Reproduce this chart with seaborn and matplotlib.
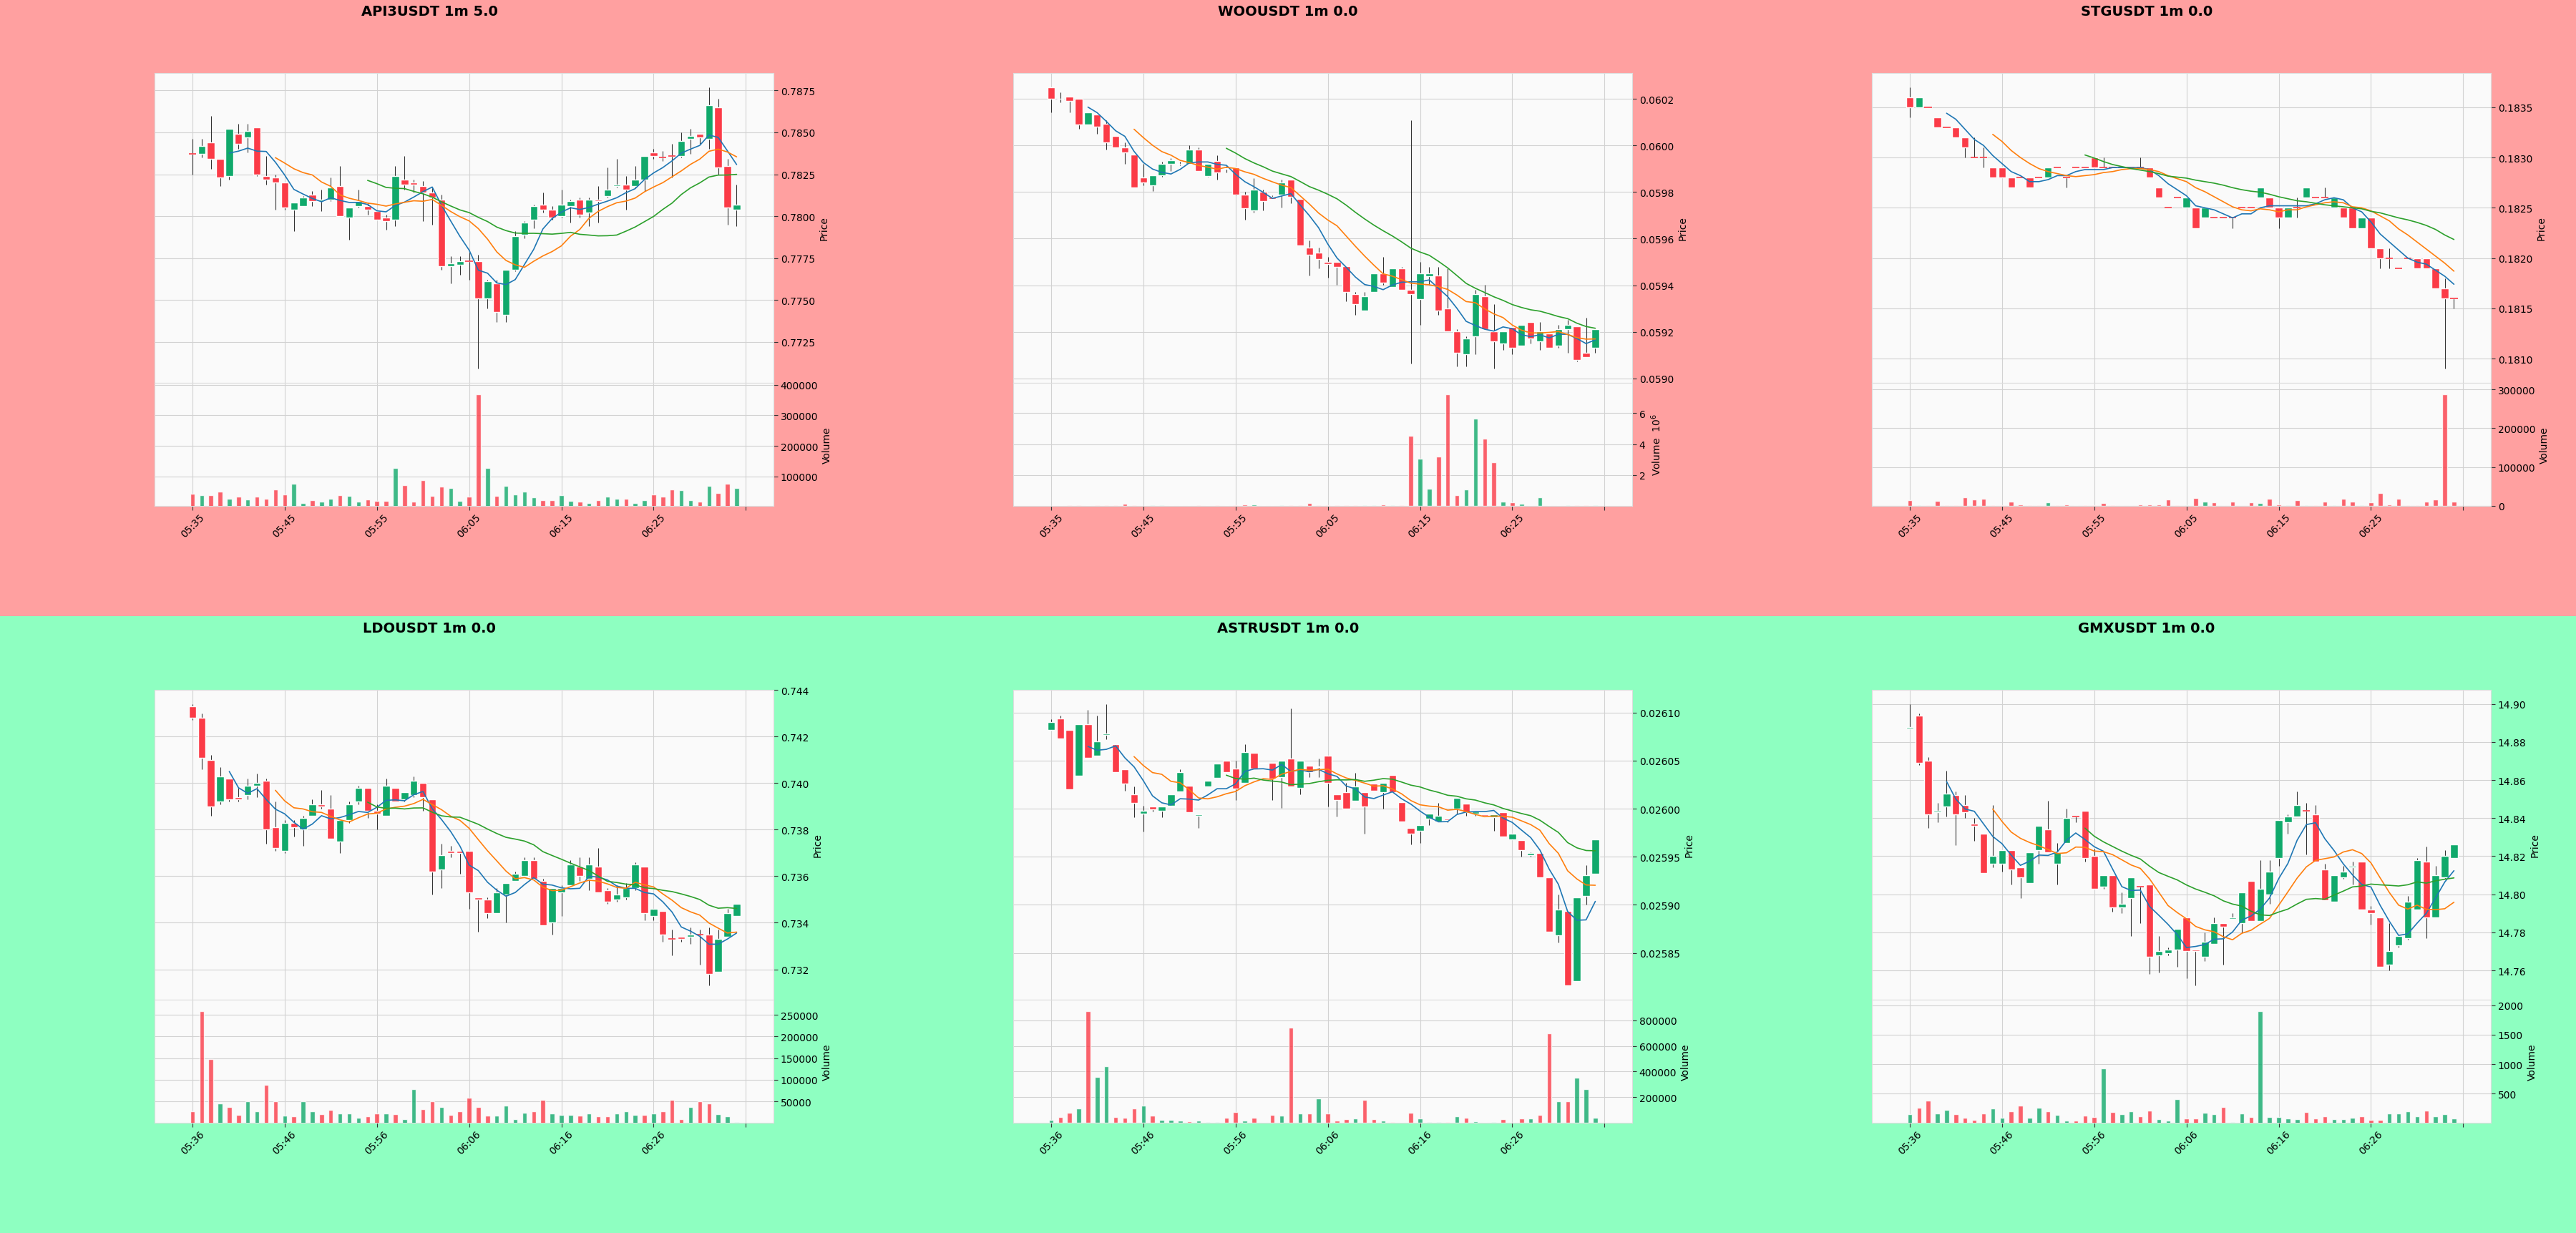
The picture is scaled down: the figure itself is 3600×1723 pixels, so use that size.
import numpy as np
import pandas as pd
import matplotlib
matplotlib.use("Agg")
import matplotlib.pyplot as plt
from matplotlib.patches import Rectangle
from matplotlib.ticker import MultipleLocator, FormatStrFormatter
import seaborn as sns

sns.set_theme(style="whitegrid")
plt.rcParams["font.family"] = ["DejaVu Sans"]
plt.rcParams["text.color"] = "black"
plt.rcParams["axes.labelcolor"] = "black"
plt.rcParams["xtick.color"] = "black"
plt.rcParams["ytick.color"] = "black"

UP = "#10a96b"
DOWN = "#fb3b47"
MA_COLORS = ["#1f77b4", "#ff7f0e", "#2ca02c"]

top_ticks = ["05:35", "05:45", "05:55", "06:05", "06:15", "06:25", ""]
bottom_ticks = ["05:36", "05:46", "05:56", "06:06", "06:16", "06:26", ""]

# ---- API3USDT ----
api3_open = [.7837, .7837, .7844, .7834, .7824, .7849, .7847, .7853, .7824, .7823,
             .7820, .7804, .7806, .7813, .7809, .7810, .7818, .7799, .7806, .7806,
             .7803, .7799, .7798, .7822, .7820, .7818, .7814, .7810, .7770, .7771,
             .7773, .7773, .7751, .7760, .7741, .7768, .7789, .7798, .7807, .7804,
             .7800, .7806, .7810, .7802, .7810, .7812, .7818, .7819, .7818, .7822,
             .7838, .7835, .7836, .7836, .7846, .7849, .7846, .7865, .7830, .7804]
api3_high = [.7846, .7846, .7860, .7834, .7852, .7855, .7855, .7853, .7836, .7825,
             .7820, .7808, .7812, .7815, .7816, .7823, .7830, .7805, .7816, .7808,
             .7803, .7801, .7830, .7836, .7822, .7821, .7817, .7813, .7776, .7776,
             .7779, .7777, .7762, .7762, .7768, .7791, .7797, .7807, .7814, .7806,
             .7816, .7810, .7811, .7811, .7818, .7829, .7834, .7824, .7830, .7836,
             .7840, .7839, .7843, .7850, .7852, .7849, .7877, .7870, .7834, .7819]
api3_low = [.7825, .7835, .7828, .7818, .7822, .7840, .7838, .7824, .7819, .7804,
            .7804, .7791, .7806, .7806, .7803, .7809, .7800, .7786, .7805, .7801,
            .7798, .7792, .7794, .7816, .7814, .7797, .7795, .7768, .7760, .7765,
            .7762, .7709, .7745, .7737, .7737, .7767, .7787, .7793, .7802, .7798,
            .7799, .7796, .7799, .7794, .7796, .7811, .7817, .7804, .7817, .7815,
            .7834, .7833, .7823, .7835, .7837, .7843, .7840, .7825, .7795, .7794]
api3_close = [.7837, .7842, .7834, .7823, .7852, .7843, .7851, .7825, .7822, .7820,
              .7805, .7808, .7811, .7809, .7810, .7817, .7800, .7805, .7809, .7804,
              .7798, .7797, .7824, .7819, .7819, .7814, .7811, .7770, .7772, .7773,
              .7773, .7751, .7761, .7743, .7768, .7788, .7796, .7806, .7804, .7799,
              .7807, .7809, .7801, .7810, .7809, .7816, .7819, .7816, .7822, .7836,
              .7836, .7835, .7836, .7845, .7848, .7847, .7866, .7829, .7805, .7807]
api3_volume = [44000, 38000, 38000, 50000, 27000, 33000, 25000, 33000, 27000, 58000,
               42000, 77000, 12000, 23000, 17000, 27000, 38000, 36000, 17000, 25000,
               19000, 19000, 128000, 72000, 17000, 88000, 36000, 66000, 63000, 19000,
               33000, 369000, 128000, 36000, 68000, 42000, 50000, 31000, 23000, 23000,
               38000, 19000, 17000, 14000, 23000, 33000, 27000, 28000, 14000, 23000,
               42000, 33000, 58000, 54000, 23000, 17000, 68000, 46000, 75000, 61000]

# ---- WOOUSDT ----
woo_open = [0.060251, 0.060201, 0.060210, 0.060200, 0.060091, 0.060133, 0.060094, 0.060041, 0.059991, 0.059961,
            0.059862, 0.059830, 0.059871, 0.059920, 0.059922, 0.059920, 0.059982, 0.059869, 0.059934, 0.059902,
            0.059905, 0.059790, 0.059721, 0.059801, 0.059781, 0.059790, 0.059853, 0.059771, 0.059561, 0.059540,
            0.059501, 0.059501, 0.059483, 0.059361, 0.059290, 0.059371, 0.059451, 0.059391, 0.059471, 0.059380,
            0.059341, 0.059440, 0.059442, 0.059301, 0.059201, 0.059102, 0.059181, 0.059352, 0.059201, 0.059151,
            0.059220, 0.059141, 0.059241, 0.059160, 0.059192, 0.059141, 0.059211, 0.059222, 0.059111, 0.059132]
woo_high = [0.060251, 0.060230, 0.060210, 0.060200, 0.060143, 0.060133, 0.060110, 0.060041, 0.060012, 0.059961,
            0.059920, 0.059871, 0.059931, 0.059946, 0.059931, 0.060000, 0.059991, 0.059920, 0.059958, 0.059916,
            0.059905, 0.059801, 0.059860, 0.059811, 0.059786, 0.059853, 0.059853, 0.059771, 0.059593, 0.059561,
            0.059521, 0.059501, 0.059483, 0.059371, 0.059371, 0.059451, 0.059521, 0.059471, 0.059480, 0.060109,
            0.059501, 0.059480, 0.059480, 0.059471, 0.059211, 0.059181, 0.059380, 0.059401, 0.059320, 0.059201,
            0.059220, 0.059231, 0.059241, 0.059241, 0.059192, 0.059231, 0.059252, 0.059222, 0.059261, 0.059211]
woo_low = [0.060143, 0.060185, 0.060143, 0.060073, 0.060091, 0.060050, 0.059982, 0.059991, 0.059920, 0.059820,
           0.059830, 0.059805, 0.059865, 0.059890, 0.059916, 0.059920, 0.059890, 0.059865, 0.059853, 0.059883,
           0.059786, 0.059682, 0.059711, 0.059721, 0.059771, 0.059733, 0.059751, 0.059570, 0.059442, 0.059471,
           0.059431, 0.059401, 0.059331, 0.059271, 0.059290, 0.059371, 0.059401, 0.059391, 0.059380, 0.059063,
           0.059231, 0.059401, 0.059271, 0.059201, 0.059051, 0.059051, 0.059102, 0.059211, 0.059041, 0.059121,
           0.059102, 0.059141, 0.059151, 0.059121, 0.059132, 0.059132, 0.059111, 0.059072, 0.059092, 0.059111]
woo_close = [0.060200, 0.060200, 0.060191, 0.060091, 0.060143, 0.060080, 0.060012, 0.059991, 0.059971, 0.059820,
             0.059842, 0.059871, 0.059920, 0.059935, 0.059920, 0.059982, 0.059890, 0.059920, 0.059883, 0.059901,
             0.059790, 0.059730, 0.059811, 0.059762, 0.059771, 0.059842, 0.059781, 0.059570, 0.059531, 0.059512,
             0.059491, 0.059480, 0.059371, 0.059320, 0.059352, 0.059451, 0.059410, 0.059471, 0.059380, 0.059361,
             0.059451, 0.059451, 0.059290, 0.059201, 0.059111, 0.059171, 0.059361, 0.059211, 0.059160, 0.059201,
             0.059132, 0.059231, 0.059171, 0.059201, 0.059132, 0.059211, 0.059231, 0.059080, 0.059092, 0.059211]
woo_volume_m = [0.02, 0.01, 0.03, 0.03, 0.02, 0.05, 0.04, 0.05, 0.15, 0.03,
                0.02, 0.03, 0.03, 0.02, 0.01, 0.02, 0.03, 0.02, 0.05, 0.02,
                0.05, 0.10, 0.10, 0.02, 0.02, 0.05, 0.05, 0.03, 0.18, 0.04,
                0.05, 0.05, 0.05, 0.05, 0.04, 0.05, 0.10, 0.03, 0.03, 4.56,
                3.08, 1.12, 3.21, 7.24, 0.72, 1.08, 5.66, 4.36, 2.83, 0.29,
                0.22, 0.13, 0.02, 0.56, 0.02, 0.02, 0.05, 0.05, 0.05, 0.03]

# ---- STGUSDT ----
stg_open = [.1836, .1835, .1835, .1834, .1833, .1833, .1832, .1830, .1830, .1829,
            .1829, .1828, .1828, .1828, .1828, .1828, .1829, .1828, .1829, .1829,
            .1830, .1829, .1829, .1829, .1829, .1829, .1829, .1827, .1825, .1826,
            .1825, .1825, .1824, .1824, .1824, .1824, .1825, .1825, .1826, .1826,
            .1825, .1824, .1825, .1826, .1826, .1826, .1825, .1825, .1825, .1823,
            .1824, .1821, .1820, .1819, .1820, .1820, .1820, .1819, .1817, .1816]
stg_high = [.1837, .1836, .1835, .1834, .1833, .1833, .1832, .1832, .1831, .1829,
            .1829, .1828, .1828, .1828, .1828, .1829, .1829, .1828, .1829, .1829,
            .1830, .1830, .1829, .1829, .1829, .1830, .1829, .1827, .1825, .1826,
            .1826, .1825, .1825, .1824, .1824, .1824, .1825, .1825, .1827, .1826,
            .1825, .1825, .1826, .1827, .1826, .1827, .1826, .1825, .1825, .1824,
            .1824, .1821, .1821, .1819, .1820, .1820, .1820, .1819, .1818, .1816]
stg_low = [.1834, .1835, .1835, .1833, .1833, .1832, .1830, .1830, .1829, .1828,
           .1828, .1827, .1828, .1827, .1828, .1828, .1829, .1827, .1829, .1829,
           .1829, .1829, .1829, .1829, .1829, .1829, .1828, .1826, .1825, .1826,
           .1825, .1823, .1824, .1824, .1824, .1823, .1825, .1825, .1826, .1825,
           .1823, .1824, .1824, .1826, .1826, .1826, .1825, .1824, .1823, .1823,
           .1821, .1819, .1819, .1819, .1820, .1819, .1819, .1817, .1809, .1815]
stg_close = [.1835, .1836, .1835, .1833, .1833, .1832, .1831, .1830, .1830, .1828,
             .1828, .1827, .1828, .1827, .1828, .1829, .1829, .1828, .1829, .1829,
             .1829, .1829, .1829, .1829, .1829, .1829, .1828, .1826, .1825, .1826,
             .1826, .1823, .1825, .1824, .1824, .1824, .1825, .1825, .1827, .1825,
             .1824, .1825, .1825, .1827, .1826, .1826, .1826, .1824, .1823, .1824,
             .1821, .1820, .1820, .1819, .1820, .1819, .1819, .1817, .1816, .1816]
stg_volume = [14000, 2000, 2000, 12000, 2000, 2000, 22000, 16000, 19000, 2000,
              2000, 11000, 4000, 2000, 2000, 9000, 2000, 4000, 0, 1000,
              2000, 7000, 2000, 0, 0, 4000, 4000, 4000, 16000, 2000,
              2000, 21000, 11000, 9000, 0, 11000, 0, 9000, 7000, 18000,
              4000, 2000, 14000, 2000, 2000, 11000, 2000, 18000, 11000, 2000,
              9000, 34000, 4000, 18000, 2000, 2000, 11000, 16000, 288000, 11000]

# ---- LDOUSDT ----
ldo_open = [.7433, .7428, .7410, .7392, .7402, .7394, .7395, .7399, .7401, .7381,
            .7371, .7383, .7380, .7386, .7391, .7389, .7375, .7384, .7392, .7398,
            .7388, .7386, .7398, .7393, .7395, .7400, .7393, .7363, .7371, .7371,
            .7371, .7351, .7350, .7344, .7352, .7358, .7360, .7367, .7358, .7340,
            .7353, .7356, .7364, .7359, .7364, .7354, .7350, .7351, .7355, .7364,
            .7343, .7345, .7333, .7334, .7334, .7335, .7335, .7319, .7334, .7343]
ldo_high = [.7434, .7430, .7412, .7407, .7402, .7398, .7402, .7404, .7402, .7392,
            .7384, .7384, .7386, .7393, .7397, .7395, .7384, .7392, .7399, .7398,
            .7391, .7402, .7398, .7396, .7403, .7400, .7393, .7374, .7373, .7371,
            .7371, .7351, .7351, .7355, .7357, .7362, .7368, .7368, .7359, .7355,
            .7356, .7367, .7368, .7368, .7372, .7355, .7356, .7357, .7366, .7364,
            .7346, .7345, .7337, .7334, .7338, .7337, .7338, .7337, .7346, .7348]
ldo_low = [.7427, .7406, .7386, .7391, .7392, .7392, .7393, .7394, .7374, .7371,
           .7370, .7377, .7373, .7386, .7389, .7376, .7370, .7383, .7391, .7385,
           .7380, .7386, .7392, .7392, .7394, .7388, .7352, .7355, .7368, .7361,
           .7346, .7336, .7342, .7344, .7340, .7358, .7360, .7359, .7339, .7335,
           .7343, .7356, .7358, .7354, .7353, .7348, .7349, .7350, .7354, .7341,
           .7341, .7332, .7326, .7332, .7331, .7322, .7313, .7319, .7334, .7343]
ldo_close = [.7428, .7411, .7390, .7403, .7393, .7393, .7399, .7400, .7380, .7372,
             .7383, .7381, .7385, .7391, .7390, .7376, .7384, .7391, .7398, .7388,
             .7387, .7399, .7392, .7396, .7401, .7394, .7362, .7369, .7370, .7370,
             .7353, .7350, .7344, .7353, .7357, .7361, .7367, .7359, .7339, .7355,
             .7355, .7365, .7360, .7365, .7353, .7349, .7352, .7355, .7365, .7344,
             .7346, .7335, .7333, .7333, .7335, .7335, .7318, .7333, .7344, .7348]
ldo_volume = [28000, 259000, 148000, 46000, 37000, 19000, 50000, 28000, 88000, 50000,
              17000, 15000, 50000, 28000, 20000, 30000, 23000, 23000, 12000, 15000,
              23000, 23000, 20000, 9000, 78000, 33000, 50000, 38000, 19000, 28000,
              58000, 38000, 17000, 17000, 41000, 9000, 24000, 28000, 54000, 23000,
              19000, 19000, 17000, 23000, 15000, 15000, 23000, 27000, 19000, 19000,
              23000, 27000, 54000, 9000, 38000, 50000, 46000, 20000, 15000, 3000]

# ---- ASTRUSDT ----
astr_open = [.026082, .026094, .026082, .026034, .026088, .026055, .026077, .026067, .026041, .026015,
             .025995, .026002, .025998, .026003, .026018, .026024, .025993, .026023, .026032, .026050,
             .026042, .026027, .026058, .026047, .026048, .026033, .026052, .026022, .026045, .026043,
             .026055, .026015, .026017, .026008, .026017, .026026, .026017, .026035, .026007, .025980,
             .025977, .025990, .025987, .025990, .026000, .026005, .025995, .025994, .025991, .025996,
             .025968, .025967, .025952, .025954, .025929, .025868, .025894, .025821, .025909, .025932]
astr_high = [.026093, .026097, .026082, .026088, .026103, .026097, .026109, .026067, .026041, .026023,
             .026003, .026002, .026002, .026015, .026041, .026024, .025994, .026029, .026047, .026050,
             .026050, .026067, .026058, .026048, .026048, .026050, .026104, .026050, .026045, .026052,
             .026055, .026015, .026027, .026037, .026017, .026026, .026027, .026035, .026007, .025980,
             .025983, .025995, .026006, .025990, .026011, .026005, .025997, .025994, .025994, .025996,
             .025974, .025967, .025955, .025954, .025929, .025911, .025894, .025908, .025941, .025968]
astr_low = [.026082, .026073, .026020, .026034, .026053, .026055, .026072, .026038, .026019, .025991,
            .025976, .025997, .025991, .026003, .026018, .025996, .025980, .026023, .026032, .026038,
            .026009, .026027, .026042, .026047, .026009, .026001, .026023, .026015, .026033, .026033,
            .026002, .025992, .026000, .026008, .025974, .026019, .026000, .026017, .025987, .025963,
            .025964, .025983, .025987, .025986, .025995, .025993, .025993, .025993, .025977, .025971,
            .025968, .025950, .025950, .025929, .025872, .025861, .025816, .025821, .025900, .025932]
astr_close = [.026090, .026073, .026020, .026088, .026053, .026070, .026078, .026038, .026026, .026006,
              .025998, .025999, .026002, .026015, .026038, .025996, .025994, .026029, .026047, .026038,
              .026021, .026059, .026042, .026048, .026031, .026050, .026023, .026050, .026038, .026044,
              .026027, .026009, .026000, .026023, .026002, .026019, .026027, .026017, .025987, .025974,
              .025983, .025995, .025993, .025988, .026011, .025996, .025997, .025993, .025994, .025971,
              .025974, .025957, .025954, .025929, .025872, .025895, .025816, .025908, .025931, .025968]
astr_volume = [25000, 47000, 80000, 113000, 874000, 357000, 443000, 47000, 41000, 113000,
               133000, 58000, 25000, 25000, 19000, 11000, 19000, 5000, 5000, 41000,
               86000, 19000, 41000, 2000, 64000, 58000, 744000, 75000, 75000, 191000,
               75000, 19000, 30000, 36000, 180000, 30000, 19000, 5000, 1000, 80000,
               36000, 5000, 5000, 5000, 52000, 41000, 11000, 1000, 5000, 30000,
               1000, 36000, 36000, 64000, 697000, 166000, 166000, 351000, 263000, 41000]

# ---- GMXUSDT ----
gmx_open = [14.887, 14.894, 14.870, 14.843, 14.846, 14.852, 14.847, 14.837, 14.832, 14.816,
            14.816, 14.823, 14.814, 14.806, 14.823, 14.834, 14.816, 14.827, 14.841, 14.844,
            14.820, 14.804, 14.810, 14.793, 14.798, 14.804, 14.805, 14.768, 14.769, 14.771,
            14.788, 14.771, 14.767, 14.774, 14.785, 14.787, 14.785, 14.807, 14.786, 14.800,
            14.819, 14.838, 14.841, 14.844, 14.842, 14.813, 14.796, 14.809, 14.814, 14.817,
            14.792, 14.788, 14.763, 14.773, 14.777, 14.792, 14.817, 14.788, 14.809, 14.819]
gmx_high = [14.900, 14.895, 14.872, 14.848, 14.865, 14.854, 14.852, 14.840, 14.832, 14.847,
            14.823, 14.823, 14.814, 14.822, 14.836, 14.849, 14.827, 14.845, 14.841, 14.844,
            14.824, 14.810, 14.810, 14.801, 14.809, 14.804, 14.805, 14.778, 14.772, 14.782,
            14.788, 14.771, 14.780, 14.788, 14.785, 14.790, 14.801, 14.807, 14.818, 14.818,
            14.839, 14.842, 14.854, 14.848, 14.847, 14.816, 14.810, 14.815, 14.817, 14.817,
            14.794, 14.788, 14.785, 14.778, 14.799, 14.819, 14.825, 14.815, 14.823, 14.826]
gmx_low = [14.887, 14.868, 14.835, 14.838, 14.841, 14.826, 14.840, 14.828, 14.811, 14.814,
           14.812, 14.805, 14.798, 14.806, 14.816, 14.822, 14.805, 14.827, 14.838, 14.817,
           14.803, 14.803, 14.791, 14.790, 14.778, 14.785, 14.758, 14.759, 14.768, 14.762,
           14.756, 14.752, 14.765, 14.774, 14.763, 14.787, 14.780, 14.786, 14.786, 14.795,
           14.815, 14.832, 14.841, 14.821, 14.817, 14.797, 14.796, 14.808, 14.805, 14.792,
           14.784, 14.762, 14.760, 14.772, 14.776, 14.792, 14.777, 14.788, 14.808, 14.819]
gmx_close = [14.888, 14.869, 14.842, 14.844, 14.853, 14.842, 14.843, 14.836, 14.811, 14.820,
             14.823, 14.813, 14.809, 14.822, 14.836, 14.822, 14.822, 14.840, 14.841, 14.819,
             14.803, 14.810, 14.793, 14.795, 14.809, 14.804, 14.767, 14.770, 14.771, 14.782,
             14.770, 14.770, 14.775, 14.785, 14.783, 14.788, 14.801, 14.786, 14.803, 14.812,
             14.839, 14.841, 14.847, 14.844, 14.817, 14.797, 14.810, 14.812, 14.815, 14.792,
             14.790, 14.762, 14.770, 14.778, 14.796, 14.818, 14.788, 14.810, 14.820, 14.826]
gmx_volume = [150, 257, 377, 161, 221, 150, 90, 54, 161, 245,
              90, 197, 293, 90, 257, 197, 138, 42, 42, 126,
              102, 933, 185, 150, 197, 114, 209, 66, 42, 413,
              78, 78, 173, 150, 269, 24, 161, 102, 1902, 102,
              102, 78, 66, 185, 78, 114, 66, 66, 90, 114,
              54, 54, 161, 161, 197, 114, 209, 114, 150, 78]

panels = [
    ("API3USDT 1m 5.0", api3_open, api3_high, api3_low, api3_close, api3_volume,
     0.0025, "%.4f", 100000, "Volume", top_ticks),
    ("WOOUSDT 1m 0.0", woo_open, woo_high, woo_low, woo_close, woo_volume_m,
     0.0002, "%.4f", 2, "Volume  $10^{6}$", top_ticks),
    ("STGUSDT 1m 0.0", stg_open, stg_high, stg_low, stg_close, stg_volume,
     0.0005, "%.4f", 100000, "Volume", top_ticks),
    ("LDOUSDT 1m 0.0", ldo_open, ldo_high, ldo_low, ldo_close, ldo_volume,
     0.002, "%.3f", 50000, "Volume", bottom_ticks),
    ("ASTRUSDT 1m 0.0", astr_open, astr_high, astr_low, astr_close, astr_volume,
     0.00005, "%.5f", 200000, "Volume", bottom_ticks),
    ("GMXUSDT 1m 0.0", gmx_open, gmx_high, gmx_low, gmx_close, gmx_volume,
     0.02, "%.2f", 500, "Volume", bottom_ticks),
]

W, H = 3600, 1724
fig = plt.figure(figsize=(W / 100, H / 100), dpi=100)
fig.patches.append(Rectangle((0, 0.5), 1, 0.5, transform=fig.transFigure,
                             facecolor="#ffa0a0", edgecolor="none", zorder=-10))
fig.patches.append(Rectangle((0, 0), 1, 0.5, transform=fig.transFigure,
                             facecolor="#8effc1", edgecolor="none", zorder=-10))

for k, (title, o, h, l, c, v, ystep, yfmt, vstep, vlabel, xt) in enumerate(panels):
    row, col = divmod(k, 3)
    top = row * 862
    left = (216 + 1200 * col) / W
    axp = fig.add_axes([left, 1 - (top + 536) / H, 865 / W, 433 / H])
    axv = fig.add_axes([left, 1 - (top + 708) / H, 865 / W, 172 / H], sharex=axp)

    df = pd.DataFrame({"open": o, "high": h, "low": l, "close": c, "volume": v})
    idx = np.arange(len(df))
    up = (df["close"] > df["open"]).to_numpy()
    colors = np.where(up, UP, DOWN)

    for ax in (axp, axv):
        ax.set_facecolor("#fafafa")
        ax.grid(True, color="#d2d2d2", lw=0.8)
        for s in ax.spines.values():
            s.set_color("#dddddd")
            s.set_linewidth(0.8)
        ax.yaxis.tick_right()
        ax.yaxis.set_label_position("right")
        ax.tick_params(axis="y", right=True, left=False, length=4, width=0.8,
                       color="#333333", labelsize=10, pad=3)

    # candles
    axp.vlines(idx, df["low"], df["high"], color="#333333", lw=0.8, zorder=2)
    axp.bar(idx, (df["close"] - df["open"]).abs(), bottom=np.minimum(df["open"], df["close"]),
            width=0.8, color=colors, zorder=3)
    doji = (df["close"] == df["open"]).to_numpy()
    axp.hlines(df["open"][doji], idx[doji] - 0.4, idx[doji] + 0.4, colors=np.array(colors)[doji],
               lw=1.2, zorder=3)

    # moving averages 5 / 10 / 20
    for w, mc in zip((5, 10, 20), MA_COLORS):
        ma = df["close"].rolling(w).mean()
        sns.lineplot(x=idx, y=ma, ax=axp, color=mc, lw=1.2, legend=False, zorder=4)

    lo, hi = df["low"].min(), df["high"].max()
    pad = 0.05 * (hi - lo)
    axp.set_ylim(lo - pad, hi + pad)
    axp.yaxis.set_major_locator(MultipleLocator(ystep))
    axp.yaxis.set_major_formatter(FormatStrFormatter(yfmt))
    axp.set_ylabel("Price", fontsize=10)
    axp.set_xlabel("")
    axp.tick_params(axis="x", bottom=False, labelbottom=False)

    # volume
    axv.bar(idx, df["volume"], width=0.5, color=colors, alpha=0.8, zorder=3)
    axv.set_ylim(0.3 * df["volume"].min(), 1.1 * df["volume"].max())
    axv.yaxis.set_major_locator(MultipleLocator(vstep))
    axv.yaxis.set_major_formatter(FormatStrFormatter("%d"))
    axv.set_ylabel(vlabel, fontsize=10)

    axv.set_xlim(-4.1, 63.0)
    axv.set_xticks(np.arange(0, 61, 10))
    axv.set_xticklabels(xt, rotation=45, ha="center", fontsize=10)
    axv.tick_params(axis="x", bottom=True, length=4, width=0.8, color="#333333", pad=2)

    fig.text((600 + 1200 * col) / W, 1 - (top + 17) / H, title, ha="center", va="center",
             fontsize=14, fontweight="bold", color="black")

fig.savefig("out.png", dpi=100)
